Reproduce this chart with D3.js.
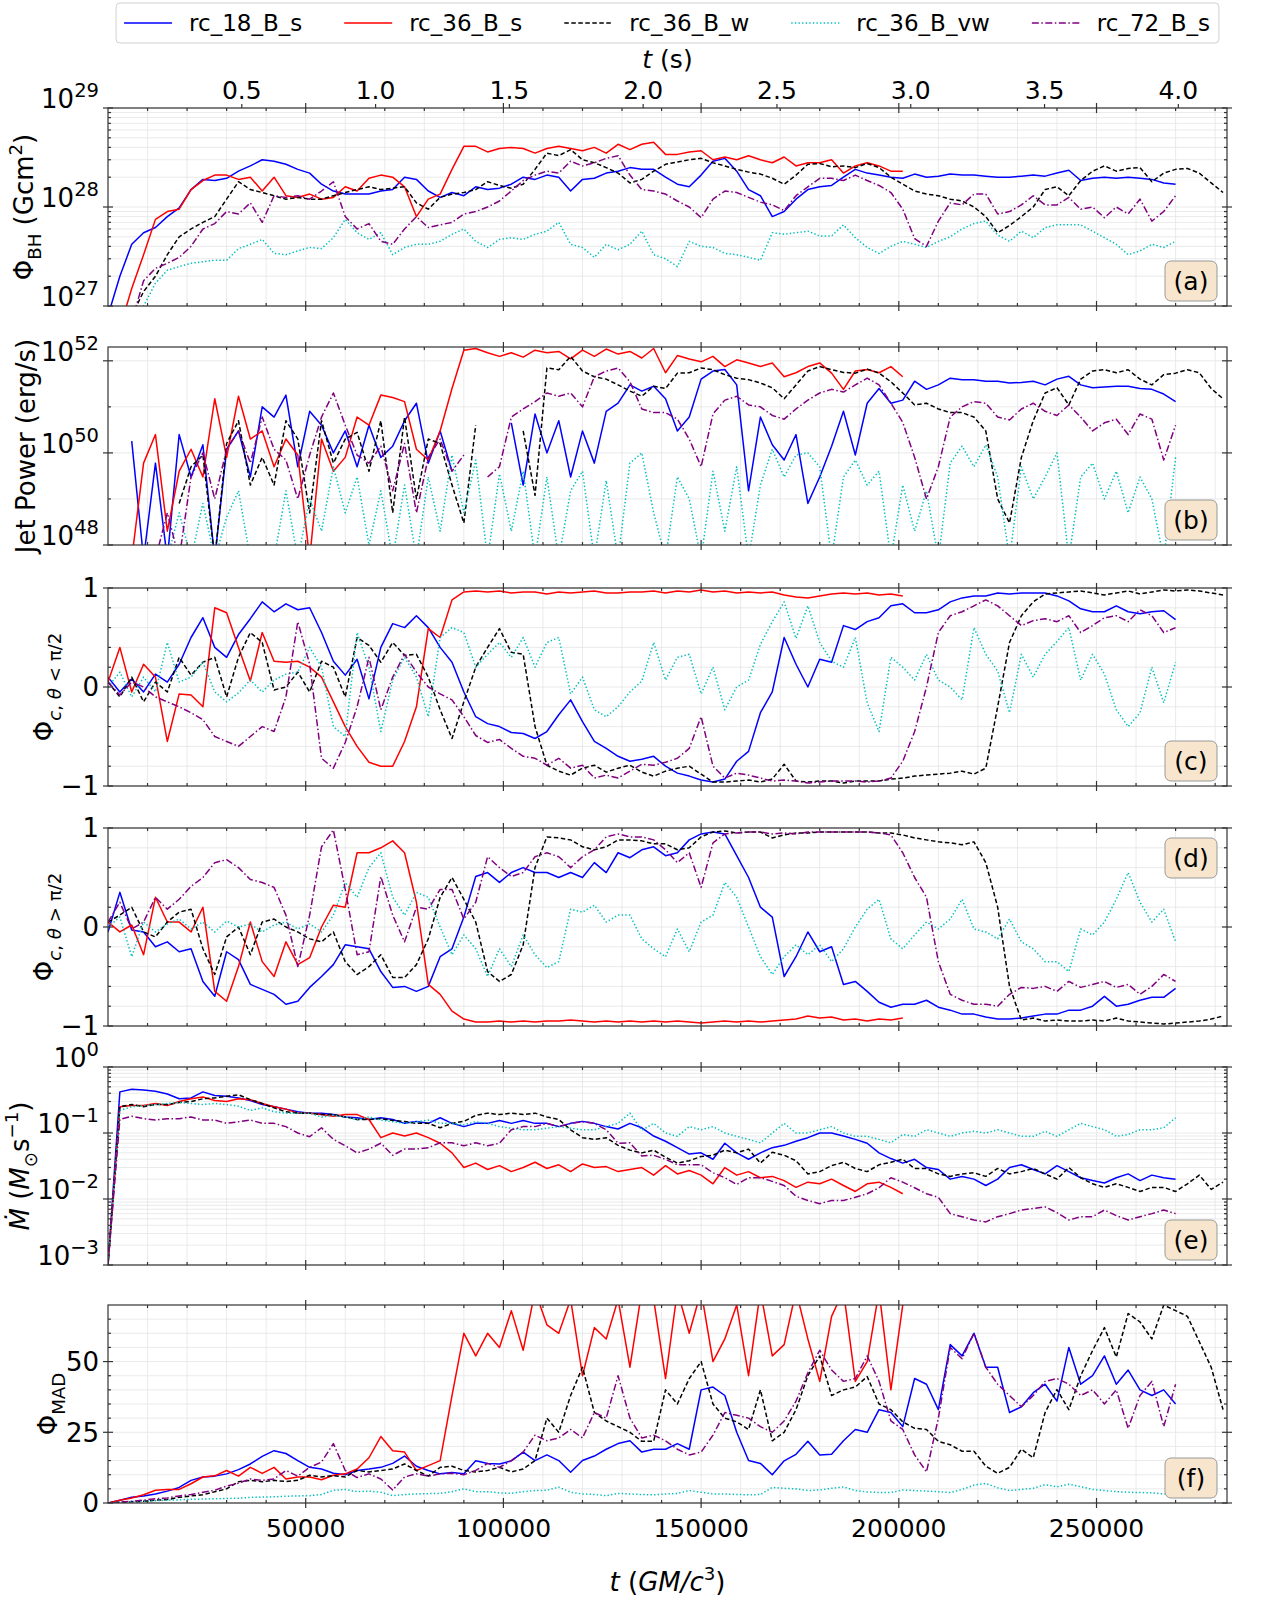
<!DOCTYPE html>
<html>
<head>
<meta charset="utf-8">
<title>Flux, jet power and accretion rate</title>
<script src="https://cdn.jsdelivr.net/npm/d3@7"></script>
<style>
  body { margin: 0; background: #fff; }
  svg { font-family: "DejaVu Sans", sans-serif; }
  .grid line { stroke: #e4e4e4; stroke-width: 0.8; }
  .spine { fill: none; stroke: #333; stroke-width: 1.2; }
  .tk { stroke: #333; stroke-width: 1.2; }
  .series { fill: none; stroke-width: 1.5; stroke-linejoin: round; }
</style>
</head>
<body>
<script>
// every array is sampled on the same grid: t = i * dt (GM/c^3)
var dt = 3000;

var runs = ["rc_18_B_s", "rc_36_B_s", "rc_36_B_w", "rc_36_B_vw", "rc_72_B_s"];

// (a) Phi_BH in units of 1e28 G cm^2
var phiBH_18s = [0.08,0.2,0.42,0.55,0.62,0.8,0.98,1.5,1.9,1.85,
  1.95,2.3,2.6,3.0,2.9,2.7,2.4,2.2,1.7,1.45,
  1.35,1.35,1.35,1.45,1.5,2.0,1.9,1.45,1.25,1.4,
  1.3,1.6,1.5,1.55,1.7,2.0,1.9,2.1,2.0,1.45,
  1.9,1.95,2.2,2.3,2.5,2.4,2.4,2.0,1.7,1.6,
  2.1,2.9,3.1,2.3,1.5,1.3,0.8,0.9,1.2,1.5,
  1.6,1.65,2.0,2.4,2.2,2.1,2.0,1.95,2.15,2.0,
  2.05,2.15,2.1,2.1,2.05,2.0,2.0,2.05,2.1,2.05,
  2.2,2.35,1.85,1.95,2.0,1.95,2.0,1.95,1.9,1.75,
  1.7];
var phiBH_36s = [0.05,0.06,0.15,0.33,0.75,0.9,0.95,1.5,1.85,2.1,
  2.1,1.9,2.0,1.45,2.0,1.3,1.25,1.35,1.2,1.25,
  1.6,1.45,1.95,2.1,2.0,1.6,0.8,1.2,1.35,2.4,
  4.1,4.1,3.6,3.9,4.0,3.9,3.5,3.9,4.1,3.9,
  3.7,4.0,3.5,4.3,3.8,4.3,4.5,3.4,3.4,3.6,
  3.7,3.0,3.2,3.0,3.3,3.0,2.8,3.2,2.6,2.8,
  2.8,3.0,2.2,2.6,2.8,2.6,2.3,2.3];
var phiBH_36w = [0.05,0.05,0.08,0.14,0.2,0.33,0.5,0.6,0.7,0.8,
  1.2,1.8,1.5,1.4,1.3,1.2,1.25,1.2,1.2,1.3,
  1.4,1.5,1.6,1.5,1.55,1.6,1.1,0.95,1.25,1.35,
  1.4,1.5,1.8,1.65,1.55,1.7,2.4,3.5,3.3,3.8,
  3.0,2.8,2.5,2.2,1.75,1.9,2.3,2.7,2.85,3.0,
  3.1,2.8,2.6,2.4,2.25,2.15,1.95,1.7,2.1,2.7,
  2.75,2.55,2.6,2.5,2.75,2.5,2.0,1.7,1.45,1.35,
  1.3,1.2,1.15,1.0,0.8,0.55,0.65,0.8,1.0,1.5,
  1.6,1.3,1.85,2.3,2.6,2.3,2.45,2.5,1.8,2.2,
  2.4,2.45,2.2,1.75,1.4];
var phiBH_36vw = [0.05,0.05,0.06,0.1,0.17,0.23,0.25,0.27,0.28,0.29,
  0.29,0.38,0.42,0.47,0.34,0.33,0.36,0.39,0.38,0.49,
  0.75,0.55,0.47,0.55,0.33,0.39,0.42,0.42,0.45,0.53,
  0.6,0.45,0.39,0.47,0.49,0.47,0.53,0.57,0.7,0.42,
  0.39,0.31,0.42,0.37,0.42,0.57,0.33,0.3,0.25,0.45,
  0.4,0.39,0.34,0.33,0.31,0.29,0.55,0.53,0.55,0.57,
  0.51,0.51,0.66,0.49,0.39,0.34,0.4,0.45,0.42,0.39,
  0.45,0.5,0.6,0.68,0.72,0.52,0.45,0.57,0.49,0.62,
  0.66,0.66,0.66,0.57,0.49,0.42,0.33,0.36,0.42,0.39,
  0.45];
var phiBH_72s = [0.05,0.05,0.07,0.18,0.24,0.27,0.31,0.4,0.6,0.68,
  0.9,0.85,1.1,0.7,1.3,1.25,1.3,1.2,1.45,1.8,
  0.8,0.6,0.68,0.45,0.42,0.6,0.8,0.62,0.66,0.7,
  0.85,0.9,1.0,1.15,1.45,1.85,2.1,2.3,2.2,2.9,
  2.6,2.8,3.1,3.3,2.1,1.5,1.45,1.35,1.15,1.0,
  0.78,1.2,1.45,1.4,1.25,1.12,1.05,0.92,1.3,1.6,
  1.95,1.95,1.85,2.1,1.85,1.65,1.4,0.95,0.48,0.4,
  0.72,1.1,1.05,1.35,1.35,0.85,0.9,1.05,1.3,1.05,
  1.05,1.25,0.95,1.0,0.78,1.0,0.85,1.2,0.72,0.9,
  1.3];

// (b) jet power in units of 1e50 erg/s, null = no jet
var jet_18s = [null,null,1.8,0.005,0.6,0.005,2.5,0.3,1.5,0.005,
  1.2,3.0,0.3,10,6,18,0.5,8,4,1.0,
  3,0.5,4,0.8,1.4,5,12,0.6,3,0.4,
  null,null,2.5,null,4.5,0.2,7,1.0,5,0.3,
  3,0.6,8,12,30,22,28,15,3,6,
  40,60,65,30,0.15,6,1.5,0.7,2.5,0.08,
  0.3,1.4,8,0.9,12,25,12,14,36,24,
  30,42,39,39,36,36,33,34,36,30,
  40,46,30,26,27,28,28,25,24,19,
  13];
var jet_36s = [null,null,0.005,0.6,2.5,0.02,0.4,1.2,0.3,15,
  0.8,17,2,3,0.5,2,0.9,0.005,2,0.4,
  0.8,6,4,18,16,13,1.2,0.7,3,25,
  170,185,150,125,150,120,170,150,160,110,
  170,125,180,140,160,115,185,55,130,110,
  95,125,75,105,90,75,90,45,55,75,
  90,54,24,60,65,55,75,45];
var jet_36w = [null,null,null,null,null,null,0.08,0.5,0.9,0.005,
  1.6,5,0.2,0.8,0.2,5,2,0.05,5,0.6,
  2,2.8,0.4,5,0.05,6,0.1,2,1.6,0.2,
  0.03,4,null,3,null,3,0.12,70,64,125,
  60,45,40,30,22,17,28,25,54,55,
  70,64,50,42,39,33,26,15,30,60,
  75,64,56,54,66,54,35,20,11,12,
  9,7.5,7.5,6,3,0.1,0.03,0.8,5,20,
  26,11,40,60,64,55,64,40,30,50,
  54,64,55,25,15];
var jet_36vw = [null,null,null,null,null,0.005,0.05,0.005,0.08,0.005,
  0.04,0.15,0.005,null,0.005,0.15,0.005,0.1,0.02,0.5,
  0.05,0.3,0.01,0.15,0.005,0.2,0.005,0.3,0.02,0.9,
  0.05,0.7,0.005,0.35,0.02,0.4,0.005,0.3,0.005,0.15,
  0.4,0.005,0.25,0.005,0.6,1.0,0.05,0.005,0.3,0.1,
  0.005,0.4,0.02,0.5,0.005,0.2,1.2,0.3,0.9,1.0,
  0.5,0.005,0.3,0.7,0.2,0.4,0.005,0.2,0.02,0.15,
  0.005,0.6,1.4,0.5,1.5,0.3,0.005,0.5,0.1,0.3,
  1.0,0.005,0.3,0.6,0.1,0.4,0.05,0.3,0.1,0.005,
  0.8];
var jet_72s = [null,null,null,null,0.005,0.05,0.005,0.3,1.0,0.1,
  1.2,3,0.6,6,1.2,0.7,0.1,0.9,6,20,
  4,0.9,0.6,1.4,0.15,1.6,0.05,0.8,2,0.4,
  0.9,null,0.3,0.5,6,9,13,20,17,20,
  10,45,60,70,35,9,7.5,7.5,5.4,2,
  0.5,7,14,17,11,10,6.5,5.4,9,14,
  20,24,21,30,42,30,12,4.6,0.8,0.1,
  0.5,6,10,13,12,6,5.2,9,12,8,
  6.5,11,6,3,4.5,5.4,2.5,7,5.4,0.7,
  4];

// (c) Phi_c, theta < pi/2
var phiN_18s = [0.1,-0.05,0.08,-0.05,0.13,0.05,0.23,0.5,0.7,0.4,
  0.3,0.53,0.69,0.86,0.76,0.84,0.78,0.8,0.55,0.26,
  0.12,0.28,-0.12,0.4,0.64,0.6,0.72,0.6,0.4,0.25,
  -0.05,-0.3,-0.37,-0.4,-0.46,-0.47,-0.52,-0.45,-0.28,-0.13,
  -0.35,-0.55,-0.62,-0.7,-0.75,-0.73,-0.7,-0.8,-0.87,-0.9,
  -0.94,-0.96,-0.93,-0.75,-0.65,-0.26,-0.05,0.5,0.23,0.0,
  0.28,0.25,0.62,0.58,0.66,0.7,0.82,0.84,0.75,0.75,
  0.78,0.86,0.9,0.92,0.92,0.95,0.94,0.95,0.95,0.95,
  0.92,0.87,0.79,0.76,0.76,0.82,0.76,0.74,0.76,0.77,
  0.68];
var phiN_36s = [0.05,0.4,-0.05,0.23,0.1,-0.55,-0.07,-0.08,-0.2,0.8,
  0.75,0.4,0.06,0.55,0.26,0.25,0.26,0.2,0.1,-0.15,
  -0.4,-0.6,-0.76,-0.8,-0.8,-0.55,-0.2,0.59,0.5,0.88,
  0.96,0.97,0.96,0.97,0.95,0.96,0.96,0.94,0.96,0.95,
  0.96,0.97,0.95,0.95,0.96,0.96,0.97,0.95,0.97,0.96,
  0.98,0.96,0.97,0.95,0.96,0.95,0.96,0.93,0.91,0.9,
  0.92,0.94,0.95,0.94,0.95,0.93,0.94,0.92];
var phiN_36w = [0.05,-0.1,0.1,-0.15,0.05,-0.05,0.3,0.12,0.25,0.3,
  -0.1,0.3,0.55,0.45,-0.03,0.0,0.15,-0.05,0.26,0.2,
  -0.1,0.5,0.42,0.25,0.45,0.32,0.33,0.1,-0.23,-0.52,
  -0.15,0.2,0.4,0.59,0.35,0.33,-0.4,-0.79,-0.85,-0.89,
  -0.82,-0.79,-0.86,-0.82,-0.79,-0.86,-0.9,-0.85,-0.82,-0.8,
  -0.88,-0.96,-0.96,-0.95,-0.94,-0.96,-0.93,-0.78,-0.95,-0.96,
  -0.95,-0.95,-0.97,-0.95,-0.95,-0.95,-0.93,-0.92,-0.9,-0.89,
  -0.88,-0.87,-0.85,-0.88,-0.82,-0.2,0.45,0.72,0.86,0.94,
  0.95,0.96,0.97,0.95,0.93,0.95,0.97,0.94,0.96,0.98,
  0.97,0.98,0.97,0.95,0.93];
var phiN_36vw = [0.0,0.15,-0.1,0.1,-0.05,0.45,0.05,0.1,0.25,-0.05,
  -0.15,-0.06,0.07,-0.05,0.07,0.13,0.15,0.4,0.2,-0.4,
  -0.5,0.55,0.2,-0.45,0.07,0.3,0.1,-0.3,0.5,0.6,
  0.55,0.2,0.33,0.45,0.3,0.5,0.2,0.45,0.5,-0.07,
  0.1,-0.23,-0.3,-0.2,-0.05,0.06,0.45,0.07,0.3,0.33,
  -0.07,0.2,-0.23,0.0,0.07,0.43,0.66,0.86,0.49,0.82,
  0.45,0.26,0.2,0.5,-0.16,-0.45,0.3,0.2,0.07,0.33,
  0.07,0.0,-0.13,0.6,0.33,0.16,-0.26,0.33,0.1,0.33,
  0.46,0.6,0.07,0.33,0.13,-0.23,-0.4,-0.26,0.2,-0.16,
  0.25];
var phiN_72s = [0.05,-0.08,0.05,0.0,-0.1,-0.15,-0.2,-0.26,-0.33,-0.5,
  -0.55,-0.6,-0.5,-0.4,-0.45,-0.1,0.66,0.23,-0.72,-0.82,
  -0.56,-0.2,0.3,-0.23,0.1,0.33,0.15,0.0,-0.07,-0.13,
  -0.3,-0.49,-0.56,-0.53,-0.62,-0.7,-0.72,-0.79,-0.72,-0.82,
  -0.79,-0.92,-0.89,-0.92,-0.85,-0.78,-0.79,-0.76,-0.72,-0.62,
  -0.3,-0.8,-0.92,-0.87,-0.89,-0.92,-0.95,-0.94,-0.95,-0.97,
  -0.96,-0.95,-0.95,-0.95,-0.96,-0.95,-0.92,-0.75,-0.45,0.0,
  0.55,0.72,0.76,0.82,0.88,0.82,0.72,0.62,0.67,0.69,
  0.66,0.72,0.55,0.62,0.7,0.72,0.66,0.78,0.72,0.55,
  0.6];

// (d) Phi_c, theta > pi/2
var phiS_18s = [-0.05,0.35,-0.03,-0.05,-0.2,-0.15,-0.25,-0.22,-0.55,-0.7,
  -0.25,-0.33,-0.58,-0.63,-0.68,-0.78,-0.75,-0.61,-0.5,-0.38,
  -0.18,-0.2,-0.22,-0.45,-0.61,-0.6,-0.65,-0.6,-0.3,-0.22,
  0.1,0.51,0.55,0.45,0.55,0.6,0.55,0.55,0.5,0.55,
  0.5,0.65,0.55,0.75,0.7,0.78,0.81,0.72,0.75,0.88,
  0.94,0.96,0.94,0.72,0.5,0.2,0.1,-0.5,-0.3,-0.05,
  -0.25,-0.2,-0.58,-0.55,-0.65,-0.76,-0.81,-0.78,-0.78,-0.74,
  -0.81,-0.84,-0.88,-0.88,-0.91,-0.93,-0.93,-0.92,-0.9,-0.88,
  -0.88,-0.84,-0.84,-0.8,-0.7,-0.8,-0.78,-0.74,-0.71,-0.71,
  -0.62];
var phiS_36s = [0.05,-0.05,0.02,-0.28,0.3,0.05,0.05,-0.05,0.2,-0.65,
  -0.75,-0.4,0.05,-0.35,-0.5,-0.15,-0.38,-0.31,0.0,0.22,
  0.2,0.75,0.75,0.8,0.87,0.75,0.25,-0.58,-0.68,-0.85,
  -0.93,-0.96,-0.96,-0.95,-0.96,-0.95,-0.96,-0.95,-0.95,-0.94,
  -0.95,-0.96,-0.95,-0.96,-0.95,-0.96,-0.95,-0.96,-0.95,-0.96,
  -0.97,-0.96,-0.95,-0.96,-0.95,-0.96,-0.95,-0.94,-0.93,-0.9,
  -0.92,-0.91,-0.94,-0.93,-0.95,-0.93,-0.94,-0.92];
var phiS_36w = [0.05,0.12,0.2,-0.05,-0.1,0.05,0.15,0.18,-0.22,-0.48,
  -0.1,0.0,-0.28,0.05,0.08,0.0,-0.05,-0.12,-0.15,-0.05,
  -0.35,-0.48,-0.4,-0.28,-0.51,-0.51,-0.38,-0.12,0.3,0.5,
  0.28,0.05,-0.45,-0.55,-0.48,-0.18,0.6,0.91,0.9,0.88,
  0.81,0.78,0.81,0.88,0.88,0.87,0.84,0.84,0.78,0.8,
  0.91,0.96,0.97,0.95,0.96,0.96,0.9,0.93,0.95,0.95,
  0.96,0.96,0.96,0.96,0.96,0.95,0.95,0.93,0.9,0.88,
  0.86,0.85,0.83,0.86,0.65,0.2,-0.6,-0.94,-0.92,-0.95,
  -0.94,-0.95,-0.95,-0.94,-0.95,-0.92,-0.95,-0.96,-0.97,-0.98,
  -0.97,-0.96,-0.95,-0.93,-0.9];
var phiS_36vw = [0.0,0.1,-0.3,0.05,-0.05,0.03,0.08,-0.02,0.05,-0.05,
  0.06,0.0,0.03,-0.05,0.02,0.05,-0.02,0.03,-0.05,0.12,
  0.45,0.3,0.6,0.75,0.3,0.12,0.35,0.3,0.0,-0.28,
  -0.08,-0.22,-0.5,-0.22,-0.4,-0.08,-0.28,-0.41,-0.35,0.18,
  0.15,0.22,0.05,0.12,0.12,-0.12,-0.22,-0.3,-0.02,-0.25,
  0.05,0.12,0.45,0.3,0.0,-0.3,-0.48,-0.3,-0.18,-0.28,
  -0.18,-0.35,-0.22,0.0,0.18,0.28,-0.12,-0.22,-0.08,0.05,
  -0.02,0.08,0.28,-0.02,-0.05,-0.12,0.08,-0.15,-0.22,-0.35,
  -0.35,-0.45,-0.02,-0.08,0.05,0.28,0.55,0.25,0.05,0.18,
  -0.15];
var phiS_72s = [0.05,0.25,-0.02,0.05,0.3,0.18,0.28,0.41,0.5,0.65,
  0.68,0.6,0.48,0.45,0.4,0.12,-0.4,0.12,0.81,0.98,
  0.38,-0.28,-0.25,0.51,0.12,-0.15,0.2,0.18,0.38,0.38,
  0.08,0.25,0.71,0.6,0.51,0.55,0.71,0.75,0.71,0.6,
  0.71,0.78,0.91,0.94,0.91,0.91,0.88,0.78,0.65,0.75,
  0.4,0.85,0.94,0.95,0.96,0.96,0.94,0.95,0.94,0.96,
  0.96,0.96,0.96,0.96,0.96,0.95,0.93,0.75,0.5,0.3,
  -0.35,-0.68,-0.74,-0.78,-0.78,-0.8,-0.68,-0.61,-0.62,-0.6,
  -0.65,-0.55,-0.61,-0.58,-0.55,-0.61,-0.58,-0.68,-0.6,-0.48,
  -0.55];

// (e) accretion rate, Msun/s
var mdot_18s = [0.001,0.42,0.46,0.45,0.43,0.39,0.33,0.34,0.42,0.37,
  0.36,0.34,0.31,0.27,0.25,0.23,0.21,0.2,0.2,0.19,
  0.175,0.17,0.16,0.17,0.16,0.14,0.15,0.14,0.17,0.14,
  0.125,0.14,0.14,0.155,0.14,0.155,0.14,0.14,0.125,0.14,
  0.15,0.14,0.125,0.115,0.14,0.12,0.09,0.075,0.06,0.048,
  0.05,0.04,0.07,0.05,0.04,0.05,0.06,0.065,0.075,0.085,
  0.1,0.1,0.09,0.08,0.07,0.05,0.041,0.035,0.04,0.03,
  0.028,0.02,0.022,0.02,0.016,0.02,0.03,0.033,0.028,0.024,
  0.032,0.026,0.021,0.019,0.0175,0.021,0.024,0.019,0.023,0.021,
  0.02];
var mdot_36s = [0.001,0.25,0.26,0.26,0.28,0.26,0.3,0.33,0.35,0.31,
  0.3,0.33,0.32,0.28,0.25,0.23,0.2,0.2,0.19,0.18,
  0.19,0.19,0.16,0.085,0.1,0.09,0.1,0.085,0.07,0.05,
  0.03,0.035,0.028,0.032,0.026,0.03,0.036,0.029,0.033,0.026,
  0.034,0.03,0.031,0.026,0.028,0.03,0.023,0.032,0.024,0.027,
  0.023,0.017,0.03,0.023,0.026,0.021,0.022,0.019,0.015,0.018,
  0.017,0.02,0.016,0.013,0.017,0.018,0.015,0.012];
var mdot_36w = [0.001,0.25,0.27,0.25,0.27,0.27,0.29,0.3,0.33,0.34,
  0.36,0.38,0.32,0.28,0.24,0.21,0.2,0.2,0.19,0.19,
  0.175,0.16,0.16,0.165,0.155,0.15,0.14,0.14,0.12,0.14,
  0.15,0.185,0.2,0.19,0.2,0.19,0.2,0.175,0.16,0.112,
  0.085,0.08,0.085,0.065,0.055,0.05,0.055,0.043,0.035,0.038,
  0.044,0.046,0.055,0.05,0.057,0.035,0.051,0.046,0.038,0.024,
  0.026,0.032,0.036,0.029,0.026,0.033,0.036,0.04,0.029,0.029,
  0.024,0.022,0.024,0.025,0.022,0.029,0.024,0.026,0.029,0.024,
  0.02,0.03,0.021,0.017,0.015,0.017,0.015,0.013,0.015,0.015,
  0.013,0.017,0.023,0.014,0.018];
var mdot_36vw = [0.001,0.22,0.25,0.26,0.27,0.28,0.29,0.28,0.27,0.28,
  0.27,0.255,0.22,0.24,0.21,0.2,0.2,0.2,0.175,0.185,
  0.175,0.157,0.175,0.157,0.148,0.14,0.148,0.157,0.14,0.14,
  0.133,0.148,0.14,0.125,0.118,0.112,0.112,0.118,0.125,0.118,
  0.112,0.112,0.125,0.14,0.2,0.11,0.14,0.1,0.089,0.125,
  0.112,0.125,0.1,0.089,0.08,0.071,0.1,0.14,0.1,0.1,
  0.112,0.125,0.1,0.089,0.089,0.08,0.071,0.095,0.089,0.112,
  0.1,0.089,0.1,0.106,0.1,0.112,0.1,0.089,0.089,0.106,
  0.089,0.112,0.14,0.125,0.112,0.089,0.095,0.112,0.112,0.12,
  0.17];
var mdot_72s = [0.001,0.16,0.18,0.165,0.157,0.165,0.165,0.175,0.157,0.157,
  0.14,0.148,0.157,0.14,0.14,0.125,0.1,0.088,0.12,0.08,
  0.064,0.05,0.057,0.07,0.046,0.057,0.057,0.06,0.071,0.071,
  0.064,0.071,0.064,0.07,0.112,0.125,0.125,0.14,0.125,0.14,
  0.148,0.14,0.112,0.07,0.071,0.045,0.046,0.04,0.033,0.033,
  0.033,0.025,0.021,0.0166,0.021,0.021,0.0185,0.016,0.011,0.0095,
  0.0085,0.0095,0.0095,0.0106,0.012,0.0148,0.021,0.018,0.0148,0.012,
  0.0106,0.006,0.0054,0.0048,0.0045,0.0054,0.006,0.0068,0.0072,0.0076,
  0.0062,0.0048,0.0054,0.0054,0.0068,0.0056,0.0048,0.0054,0.006,0.0068,
  0.006];

// (f) Phi_MAD
var mad_18s = [0,1,2,2.5,3.2,4.2,5.5,8,9.2,9.5,
  10.3,11.8,13.8,16.5,18.5,17.5,15,12.6,12,10.5,
  10,11.5,12,12.6,14,16.6,13,11.5,10.3,10.8,
  10.3,14.9,14,13.8,14.9,18,15,17,15,10.9,
  15,16.6,19,21,22,18,19,19,21,19,
  40,41,38,25,15,14,10,14.9,17.2,21.8,
  17,17.2,22,26,25,33,32,27,44,42,
  33,56,52,60,48,48,32,34,39,42,
  36,55,42,45,52,42,47,40,38,40,
  35];
var mad_36s = [0,1,1.8,2.9,4.5,4.8,4.8,6.8,9.2,9.6,
  11.5,9.5,12.6,10.5,12.6,8.5,9.2,9.2,8.2,9.8,
  10.3,12,16,23.5,18.5,18,11.5,13.2,15,38,
  60,52,60,55,68,54,75,63,60,72,
  45,62,58,72,48,75,72,44,75,60,
  75,50,58,70,45,75,52,56,75,58,
  43,66,75,43,50,75,40,70];
var mad_36w = [0,0.2,0.4,0.6,1,1.2,2,2.5,2.9,4,
  5,7.5,8,7.5,8,7.6,8,9.8,9.2,9.7,
  9.2,11.5,11,11.5,12,13.8,11.5,9.5,12.6,13,
  11.5,11,11.5,12.6,11,12,15,30,25,38,
  48,32,29,27,25,21.8,21.8,40,35,44,
  50,35,30,28.7,26,40,22,25,33,45,
  52,38,40,41,44.7,35,33,28.7,26.4,26,
  21.8,20.6,18.3,18.3,13,10.5,12.6,19,16,32,
  40.1,33,45,53.9,62,51.6,67,64,58,70,
  68,66,57,48,33];
var mad_36vw = [0,0.3,0.5,0.6,0.8,1.0,1.1,1.3,1.4,1.5,
  1.6,1.7,2.0,2.1,2.2,2.4,2.5,2.6,3.0,4.5,
  4.8,4.0,4.2,3.8,2.6,3.0,3.2,3.3,3.4,4.0,
  5.0,4.0,4.0,3.6,3.4,4.0,4.4,4.5,5.6,3.8,
  3.2,3.0,2.6,3.4,3.2,3.0,2.9,3.2,3.4,4.4,
  3.8,3.2,3.2,3.0,2.9,3.0,5.5,5.2,5.0,4.4,
  4.6,5.2,5.7,4.4,3.9,3.7,3.7,4.6,4.4,4.2,
  4.0,3.7,4.8,6.3,6.9,5.4,4.4,4.8,5.2,6.5,
  5.7,6.6,5.8,4.8,4.4,4.0,3.8,3.7,3.6,3.2,
  2.9];
var mad_72s = [0,0.3,0.6,1.0,1.5,1.8,2.5,3,3.8,4.5,
  6,7,8.5,8,8.5,11.5,9.5,12.6,14.5,21,
  11.5,9,10.3,8.5,4.6,9.2,10.3,9.5,10.3,10.5,
  10,11.5,14,12.6,15,18,24,22,23,26,
  23,32,30,45,30,23,24,22,19,17,
  18,24,32,31,30,27,25,29,36,46,
  54,47,43,44,52,43,29,26,17,11,
  30,55,51,60,48,42,38,34,38,43,
  44,42,38,40,35,40,26.4,38,43,27,
  42];

var colors = ["#0000ff", "#ff0000", "#000000", "#00bfbf", "#800080"];
var dashes = [null, null, "4.5,2.5", "1.4,2.2", "7,2.5,1.5,2.5"];

var W = 1270, H = 1607;
var L = 108, R = 1227;
var tops = [108, 347, 588, 828, 1067, 1305];
var PH = 198;
var tMax = 283000;
var secPerUnit = 1.4777e-5;   // GM/c^3 in seconds
var secTicks = [0.5, 1.0, 1.5, 2.0, 2.5, 3.0, 3.5, 4.0];

var panels = [
  { tag: "(a)", log: true, unit: 28, domain: [0.1, 10], major: [0.1, 1, 10],
    series: [phiBH_18s, phiBH_36s, phiBH_36w, phiBH_36vw, phiBH_72s], lx: 33,
    label: [{t: "Φ"}, {t: "BH", sub: 1}, {t: " (Gcm"}, {t: "2", sup: 1}, {t: ")"}] },
  { tag: "(b)", log: true, unit: 50, domain: [0.01, 199.5], major: [0.01, 1, 100], minor: [0.1, 10],
    series: [jet_18s, jet_36s, jet_36w, jet_36vw, jet_72s], lx: 35,
    label: [{t: "Jet Power (erg/s)"}] },
  { tag: "(c)", log: false, domain: [-1, 1], major: [-1, 0, 1], step: 0.2,
    series: [phiN_18s, phiN_36s, phiN_36w, phiN_36vw, phiN_72s], lx: 53,
    label: [{t: "Φ"}, {t: "c", sub: 1, it: 1}, {t: ", ", sub: 1}, {t: "θ", sub: 1, it: 1}, {t: " < π/2", sub: 1}] },
  { tag: "(d)", log: false, domain: [-1, 1], major: [-1, 0, 1], step: 0.2, boxTop: true,
    series: [phiS_18s, phiS_36s, phiS_36w, phiS_36vw, phiS_72s], lx: 53,
    label: [{t: "Φ"}, {t: "c", sub: 1, it: 1}, {t: ", ", sub: 1}, {t: "θ", sub: 1, it: 1}, {t: " > π/2", sub: 1}] },
  { tag: "(e)", log: true, unit: 0, domain: [0.001, 1], major: [0.001, 0.01, 0.1, 1],
    series: [mdot_18s, mdot_36s, mdot_36w, mdot_36vw, mdot_72s], lx: 29,
    label: [{t: "Ṁ", it: 1}, {t: " ("}, {t: "M", it: 1}, {t: "⊙", sub: 1}, {t: "s"}, {t: "−1", sup: 1}, {t: ")"}] },
  { tag: "(f)", log: false, domain: [0, 70], major: [0, 25, 50], step: 5,
    series: [mad_18s, mad_36s, mad_36w, mad_36vw, mad_72s], lx: 57,
    label: [{t: "Φ"}, {t: "MAD", sub: 1}] }
];

var svg = d3.select("body").append("svg").attr("width", W).attr("height", H);

var x = d3.scaleLinear().domain([0, tMax]).range([L, R]);

function rich(text, parts, size, ratio) {
  ratio = ratio || 0.7;
  var cur = 0;
  parts.forEach(function(p) {
    var off = p.sub ? 0.3 * size : p.sup ? -0.42 * size : 0;
    var ts = text.append("tspan").attr("dy", off - cur).text(p.t);
    if (p.sub || p.sup) ts.attr("font-size", ratio * size);
    if (p.it) ts.attr("font-style", "italic");
    cur = off;
  });
}

function minus(v) { return String(v).replace("-", "\u2212"); }

var xMajor = d3.range(50000, tMax, 50000);
var xMinor = d3.range(10000, tMax, 10000).filter(function(v) { return v % 50000 != 0; });

panels.forEach(function(p, k) {
  var top = tops[k], bot = top + PH;
  var y = (p.log ? d3.scaleLog() : d3.scaleLinear()).domain(p.domain).range([bot, top]);
  var lo = p.domain[0], hi = p.domain[1];

  var yMinor = [];
  if (p.log && p.minor) yMinor = p.minor;
  else if (p.log) {
    for (var e = Math.floor(Math.log10(lo)); e < Math.ceil(Math.log10(hi)); e++)
      for (var m = 2; m < 10; m++) yMinor.push(m * Math.pow(10, e));
    yMinor = yMinor.filter(function(v) { return v > lo && v < hi; });
  } else {
    yMinor = d3.range(lo, hi + 1e-9, p.step).filter(function(v) {
      return v > lo && v < hi - 1e-6 && p.major.every(function(M) { return Math.abs(M - v) > 1e-6; });
    });
  }

  var g = svg.append("g");

  // grid
  var grid = g.append("g").attr("class", "grid");
  grid.selectAll(".gx").data(d3.range(10000, tMax, 10000)).join("line")
    .attr("x1", function(d) { return x(d); }).attr("x2", function(d) { return x(d); })
    .attr("y1", top).attr("y2", bot);
  grid.selectAll(".gy").data(p.major.concat(yMinor)).join("line")
    .attr("x1", L).attr("x2", R)
    .attr("y1", function(d) { return y(d); }).attr("y2", function(d) { return y(d); });

  // series
  var clipId = "clip" + k;
  svg.append("clipPath").attr("id", clipId).append("rect")
    .attr("x", L).attr("y", top).attr("width", R - L).attr("height", PH);

  var line = d3.line()
    .defined(function(v) { return v != null; })
    .x(function(v, i) { return x(i * dt); })
    .y(function(v) { return y(v); });

  var lines = g.append("g").attr("clip-path", "url(#" + clipId + ")");
  p.series.forEach(function(arr, r) {
    lines.append("path").attr("class", "series")
      .attr("d", line(arr))
      .attr("stroke", colors[r])
      .attr("stroke-dasharray", dashes[r]);
  });

  // frame and ticks
  g.append("rect").attr("class", "spine")
    .attr("x", L).attr("y", top).attr("width", R - L).attr("height", PH);

  var tk = g.append("g");
  p.major.forEach(function(v) {
    var yy = y(v);
    tk.append("line").attr("class", "tk").attr("x1", L - 5).attr("x2", L + 5).attr("y1", yy).attr("y2", yy);
    tk.append("line").attr("class", "tk").attr("x1", R - 5).attr("x2", R + 5).attr("y1", yy).attr("y2", yy);
    var t = tk.append("text").attr("x", L - 9).attr("y", yy).attr("dy", "0.36em")
      .attr("text-anchor", "end").attr("font-size", 26);
    if (p.log) {
      var ex = Math.round(Math.log10(v)) + p.unit;
      rich(t, [{t: "10"}, {t: minus(ex), sup: 1}], 26, 0.75);
    } else t.text(minus(v));
  });
  yMinor.forEach(function(v) {
    var yy = y(v);
    tk.append("line").attr("class", "tk").attr("x1", L).attr("x2", L + 3).attr("y1", yy).attr("y2", yy);
    tk.append("line").attr("class", "tk").attr("x1", R - 3).attr("x2", R).attr("y1", yy).attr("y2", yy);
  });
  xMajor.forEach(function(v) {
    var xx = x(v);
    tk.append("line").attr("class", "tk").attr("x1", xx).attr("x2", xx).attr("y1", top - 5).attr("y2", top + 5);
    tk.append("line").attr("class", "tk").attr("x1", xx).attr("x2", xx).attr("y1", bot - 5).attr("y2", bot + 5);
  });
  xMinor.forEach(function(v) {
    var xx = x(v);
    tk.append("line").attr("class", "tk").attr("x1", xx).attr("x2", xx).attr("y1", top).attr("y2", top + 3);
    tk.append("line").attr("class", "tk").attr("x1", xx).attr("x2", xx).attr("y1", bot - 3).attr("y2", bot);
  });

  // y label
  var yl = g.append("text")
    .attr("transform", "translate(" + p.lx + "," + (top + PH / 2) + ") rotate(-90)")
    .attr("text-anchor", "middle").attr("font-size", 26);
  rich(yl, p.label, 26);

  // panel tag
  var bw = 52, bh = 40;
  var bx = R - 10 - bw, by = p.boxTop ? top + 10 : bot - 5 - bh;
  g.append("rect").attr("x", bx).attr("y", by).attr("width", bw).attr("height", bh)
    .attr("rx", 6).attr("fill", "#f7e6cd").attr("stroke", "#999").attr("stroke-width", 1);
  g.append("text").attr("x", bx + bw / 2).attr("y", by + bh / 2 + 9)
    .attr("text-anchor", "middle").attr("font-size", 25).text(p.tag);

  if (k == panels.length - 1) {
    xMajor.forEach(function(v) {
      g.append("text").attr("x", x(v)).attr("y", bot + 34)
        .attr("text-anchor", "middle").attr("font-size", 25).text(v);
    });
    var xl = g.append("text").attr("x", (L + R) / 2).attr("y", bot + 88)
      .attr("text-anchor", "middle").attr("font-size", 26);
    rich(xl, [{t: "t", it: 1}, {t: " ("}, {t: "GM/c", it: 1}, {t: "3", sup: 1}, {t: ")"}], 26);
  }
  if (k == 0) {
    secTicks.forEach(function(s) {
      var xx = x(s / secPerUnit);
      g.append("line").attr("class", "tk").attr("x1", xx).attr("x2", xx).attr("y1", top - 4).attr("y2", top);
      g.append("text").attr("x", xx).attr("y", top - 9)
        .attr("text-anchor", "middle").attr("font-size", 25).text(s.toFixed(1));
    });
    var st = g.append("text").attr("x", (L + R) / 2).attr("y", 68)
      .attr("text-anchor", "middle").attr("font-size", 25);
    rich(st, [{t: "t", it: 1}, {t: " (s)"}], 25);
  }
});

// legend
var leg = svg.append("g");
var lbox = leg.append("rect").attr("y", 3).attr("height", 40).attr("rx", 4)
  .attr("fill", "#fff").attr("stroke", "#d0d0d0");
var lx = 0;
runs.forEach(function(name, r) {
  leg.append("line").attr("x1", lx).attr("x2", lx + 48).attr("y1", 23).attr("y2", 23)
    .attr("stroke", colors[r]).attr("stroke-width", 1.5).attr("stroke-dasharray", dashes[r]);
  var t = leg.append("text").attr("x", lx + 65).attr("y", 31).attr("font-size", 23).text(name);
  lx += 65 + t.node().getComputedTextLength() + (r < runs.length - 1 ? 42 : 0);
});
var lw = lx + 17;
lbox.attr("x", -8).attr("width", lw);
leg.attr("transform", "translate(" + ((L + R) / 2 - lw / 2 + 8) + ",0)");
</script>
</body>
</html>
